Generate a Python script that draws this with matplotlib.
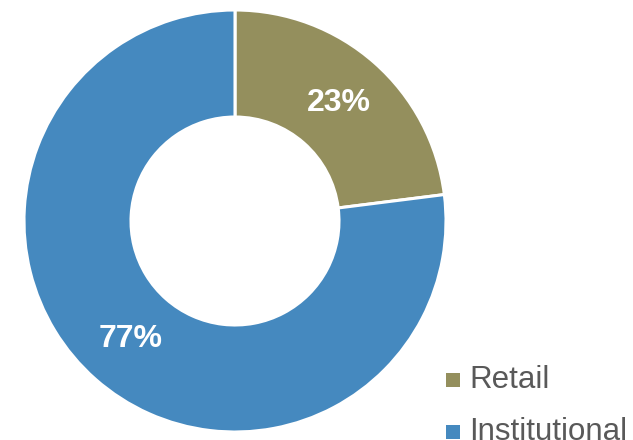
import matplotlib.pyplot as plt

categories = ['Retail', 'Institutional']
shares = [23, 77]
colors = ['#948F5D', '#4589BF']

plt.rcParams['font.family'] = ['Liberation Sans', 'DejaVu Sans']

fig = plt.figure(figsize=(6.33, 4.4), dpi=100)
ax = fig.add_axes([0, 0, 1, 1])

# donut
wedges, texts, autotexts = ax.pie(
    shares, colors=colors, startangle=90, counterclock=False,
    center=(235, 219), radius=211, frame=True,
    autopct=lambda p: '%d%%' % round(p), pctdistance=0.745,
    wedgeprops=dict(width=107, edgecolor='white', linewidth=2.2),
    textprops=dict(color='white', fontsize=23, fontweight='bold'))
ax.set_xlim(0, 633)
ax.set_ylim(0, 440)
ax.set_aspect('equal')
ax.axis('off')

# legend, drawn by hand to sit at the bottom right
for i, (name, col) in enumerate(zip(categories, colors)):
    y = 60 - i * 52
    ax.scatter([453], [y], marker='s', s=90, color=col, edgecolors='none')
    ax.text(469, y, name, fontsize=22.5, color='#595959', va='center', ha='left')

fig.savefig('out.png', dpi=100)
